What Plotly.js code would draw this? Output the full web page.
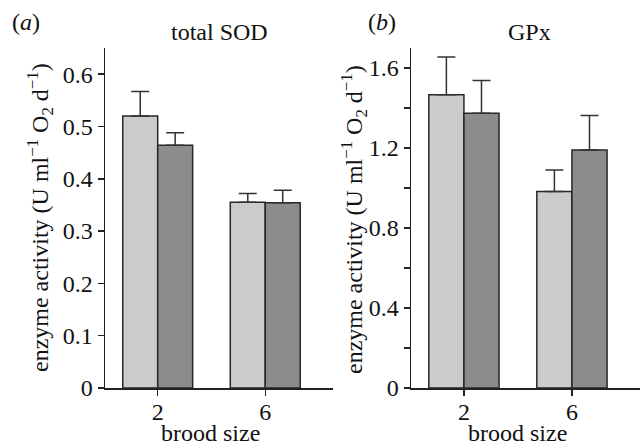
<!DOCTYPE html>
<html>
<head>
<meta charset="utf-8">
<script src="https://cdn.plot.ly/plotly-3.0.1.min.js"></script>
<style>
html,body{margin:0;padding:0;background:#fff}
#chart{width:641px;height:447px}
#chart .xtick text, #chart .ytick text, #chart .x2tick text, #chart .y2tick text {
  font-family: 'Liberation Serif', serif !important; font-size: 24px !important; fill: #111111 !important;
}
</style>
</head>
<body>
<div id="chart"></div>
<script>
// Data
const broodSize = ['2', '6'];
const sodLight = [0.520, 0.355];
const sodLightErr = [0.047, 0.017];
const sodDark = [0.464, 0.354];
const sodDarkErr = [0.024, 0.024];
const gpxLight = [1.466, 0.982];
const gpxLightErr = [0.189, 0.108];
const gpxDark = [1.374, 1.190];
const gpxDarkErr = [0.163, 0.172];
const sodTicks = [0, 0.1, 0.2, 0.3, 0.4, 0.5, 0.6];
const sodTickText = ['0', '0.1', '0.2', '0.3', '0.4', '0.5', '0.6'];
const gpxTicks = [0, 0.2, 0.4, 0.6, 0.8, 1.0, 1.2, 1.4, 1.6];
const gpxTickText = ['0', '', '0.4', '', '0.8', '', '1.2', '', '1.6'];
const xTitle = 'brood size';
const yTitle = 'enzyme activity (U ml<sup>−1</sup> O<sub>2</sub> d<sup>−1</sup>)';
const panelTitles = ['total SOD', 'GPx'];
const panelLabels = ['(<i>a</i>)', '(<i>b</i>)'];

const LIGHT = '#cbcbcb', DARK = '#8c8c8c', EDGE = '#262626';
const FONT = 'Liberation Serif';
function f(size) { return {family: FONT, size: size || 24, color: '#111111'}; }

function bar(x, y, err, color, xa, ya) {
  return {
    type: 'bar', x: x, y: y, xaxis: xa, yaxis: ya,
    marker: {color: color, line: {color: EDGE, width: 1.5}},
    error_y: {type: 'data', array: err, arrayminus: err.map(() => 0), symmetric: false,
              color: '#333333', thickness: 1.5, width: 9},
    showlegend: false, hoverinfo: 'skip'
  };
}

const data = [
  bar(broodSize, sodLight, sodLightErr, LIGHT, 'x', 'y'),
  bar(broodSize, sodDark, sodDarkErr, DARK, 'x', 'y'),
  bar(broodSize, gpxLight, gpxLightErr, LIGHT, 'x2', 'y2'),
  bar(broodSize, gpxDark, gpxDarkErr, DARK, 'x2', 'y2')
];

function xAxis(domain, anchor) {
  return {
    domain: domain, anchor: anchor, type: 'category', range: [-0.49, 1.63],
    showline: true, linecolor: '#222222', linewidth: 1.5, ticks: 'outside', ticklen: 6,
    tickwidth: 1.5, tickcolor: '#222222', showgrid: false, zeroline: false,
    ticklabelstandoff: -4, tickfont: f()
  };
}
function yAxis(domain, anchor, range, tv, tt) {
  return {
    domain: domain, anchor: anchor, range: range, tickvals: tv, ticktext: tt,
    showline: true, linecolor: '#222222', linewidth: 1.5, ticks: 'outside', ticklen: 6,
    tickwidth: 1.5, tickcolor: '#222222', showgrid: false, zeroline: false,
    tickfont: f()
  };
}

function ann(text, x, y, extra) {
  return Object.assign({text: text, xref: 'paper', yref: 'paper', x: x / 641, y: 1 - y / 447,
    xanchor: 'center', yanchor: 'middle', showarrow: false, font: f()}, extra || {});
}

const layout = {
  width: 641, height: 447,
  margin: {l: 0, r: 0, t: 0, b: 0},
  paper_bgcolor: '#ffffff', plot_bgcolor: '#ffffff',
  barmode: 'group', bargap: 0.35, bargroupgap: 0,
  font: f(),
  xaxis: xAxis([105 / 641, 333 / 641], 'y'),
  yaxis: yAxis([1 - 388 / 447, 1 - 48 / 447], 'x', [0, 0.65], sodTicks, sodTickText),
  xaxis2: xAxis([411 / 641, 640 / 641], 'y2'),
  yaxis2: yAxis([1 - 388 / 447, 1 - 48 / 447], 'x2', [0, 1.7], gpxTicks, gpxTickText),
  annotations: [
    ann(panelLabels[0], 26, 22),
    ann(panelLabels[1], 382, 22),
    ann(panelTitles[0], 219, 32),
    ann(panelTitles[1], 529, 32),
    ann(xTitle, 210, 433),
    ann(xTitle, 517, 433),
    ann(yTitle, 40, 218, {textangle: -90}),
    ann(yTitle, 354, 219, {textangle: -90})
  ]
};

Plotly.newPlot('chart', data, layout, {staticPlot: true, displayModeBar: false}).then(() => {
  document.querySelectorAll('#chart svg text').forEach(t => {
    if (!t.style.fontSize) {
      t.style.fontFamily = "'Liberation Serif', serif";
      t.style.fontSize = '24px';
      t.style.fill = '#111111';
    }
  });
});
</script>
</body>
</html>
